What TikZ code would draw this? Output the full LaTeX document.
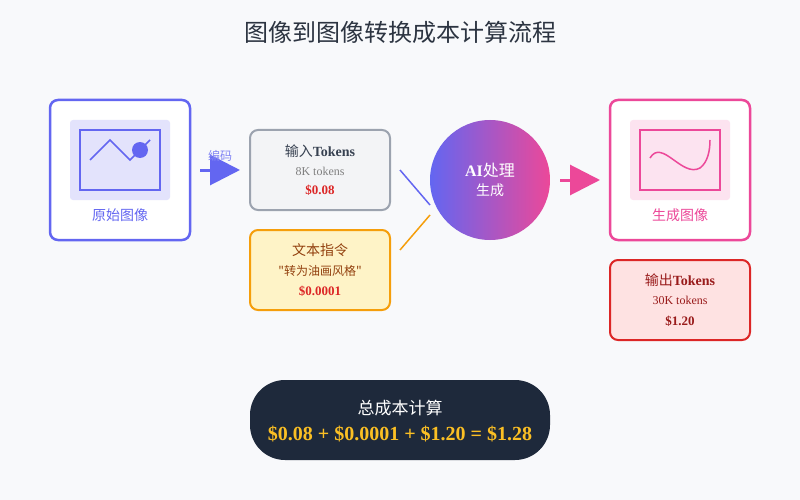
\documentclass[tikz,border=0pt]{standalone}
\usepackage{fontspec}
\setmainfont{Liberation Serif}
\newfontfamily\cjk{Noto Sans CJK SC}
\usetikzlibrary{arrows.meta}
\definecolor{indigo}{HTML}{6366F1}
\definecolor{pinkc}{HTML}{EC4899}
\definecolor{amberc}{HTML}{F59E0B}
\definecolor{redc}{HTML}{DC2626}
\definecolor{darkred}{HTML}{991B1B}
\definecolor{brownc}{HTML}{92400E}
\definecolor{slatec}{HTML}{1E293B}
\definecolor{goldc}{HTML}{FBBF24}
\definecolor{grayc}{HTML}{9CA3AF}
\definecolor{textc}{HTML}{374151}
\tikzset{
  card/.style={rounded corners=8pt, line width=2pt, minimum width=140pt},
  bigcard/.style={card, line width=2.5pt, fill=white, minimum height=140pt},
  smallcard/.style={card, minimum height=80pt},
  fat/.style={line width=3pt, -{Triangle[length=30pt,width=30pt]}},
}
\begin{document}
\begin{tikzpicture}[x=1pt,y=-1pt]
\useasboundingbox[fill={rgb,255:red,248;green,249;blue,251}] (0,0) rectangle (800,500);
% title
\node (title) at (400,32) {\cjk\fontsize{24}{28}\selectfont\color{textc!80!black}图像到图像转换成本计算流程};
% original image
\node[bigcard, draw=indigo] (orig) at (120,170) {};
\fill[indigo!18, rounded corners=3pt] (70,120) rectangle (170,200);
\draw[indigo, line width=1.5pt] (80,130) rectangle (160,190);
\draw[indigo, line width=1.5pt] (90,160) -- (110,140) -- (130,160) -- (150,140);
\fill[indigo] (140,150) circle (8);
\node[text=indigo] (origlbl) at (120,215) {\cjk\fontsize{14}{16}\selectfont 原始图像};
% input tokens
\node[smallcard, draw=grayc, fill={rgb,255:red,243;green,244;blue,246}] (intok) at (320,170) {};
\node (intxt) at (320,151) {\fontsize{14}{16}\selectfont\color{textc}{\cjk 输入}\textbf{Tokens}};
\node (innum) at (320,171) {\fontsize{12}{14}\selectfont\color{gray}8K tokens};
\node (incost) at (320,190) {\fontsize{13}{15}\selectfont\bfseries\color{redc}\$0.08};
% text prompt
\node[smallcard, draw=amberc, fill={rgb,255:red,254;green,243;blue,199}] (prompt) at (320,270) {};
\node (ptxt) at (320,250) {\cjk\fontsize{14}{16}\selectfont\color{brownc}文本指令};
\node (pq) at (320,271) {\cjk\fontsize{12}{14}\selectfont\color{brownc}"转为油画风格"};
\node (pcost) at (320,291) {\fontsize{13}{15}\selectfont\bfseries\color{redc}\$0.0001};
% AI
\node[circle, minimum size=120pt, left color=indigo, right color=pinkc] (ai) at (490,180) {};
\node (aitxt) at (490,170) {\fontsize{16}{18}\selectfont\color{white}\textbf{AI}{\cjk 处理}};
\node (aisub) at (490,190) {\cjk\fontsize{14}{16}\selectfont\color{white}生成};
% output image
\node[bigcard, draw=pinkc] (out) at (680,170) {};
\fill[pinkc!15, rounded corners=3pt] (630,120) rectangle (730,200);
\draw[pinkc, line width=1.5pt] (640,130) rectangle (720,190);
\draw[pinkc, line width=1.5pt] (650,158) .. controls (662,138) and (682,178) .. (700,168) .. controls (708,162) and (710,150) .. (710,140);
\node[text=pinkc] (outlbl) at (680,215) {\cjk\fontsize{14}{16}\selectfont 生成图像};
% output tokens
\node[smallcard, draw=redc, fill={rgb,255:red,254;green,226;blue,226}] (outtok) at (680,300) {};
\node (otxt) at (680,280) {\fontsize{14}{16}\selectfont\color{darkred}{\cjk 输出}\textbf{Tokens}};
\node (onum) at (680,300) {\fontsize{12}{14}\selectfont\color{darkred}30K tokens};
\node (ocost) at (680,321) {\fontsize{13}{15}\selectfont\bfseries\color{darkred}\$1.20};
% connectors
\coordinate (a1) at (200,170); \coordinate (a2) at (240,170);
\draw[fat, indigo] (a1) -- (a2);
\node[text=indigo!80] (enc) at (220,156) {\cjk\fontsize{12}{14}\selectfont 编码};
\coordinate (b1) at (400,170); \coordinate (b2) at (430,205);
\draw[indigo, line width=1.5pt] (b1) -- (b2);
\coordinate (c1) at (400,250); \coordinate (c2) at (430,215);
\draw[amberc, line width=1.5pt] (c1) -- (c2);
\coordinate (d1) at (560,180); \coordinate (d2) at (600,180);
\draw[fat, pinkc] (d1) -- (d2);
% total
\node[fill=slatec, rounded corners=35pt, minimum width=300pt, minimum height=80pt] (total) at (400,420) {};
\node (ttl) at (400,408) {\cjk\fontsize{17}{20}\selectfont\color{white}总成本计算};
\node (sum) at (400,434) {\fontsize{20}{24}\selectfont\bfseries\color{goldc}\$0.08 + \$0.0001 + \$1.20 = \$1.28};
\end{tikzpicture}
\end{document}
